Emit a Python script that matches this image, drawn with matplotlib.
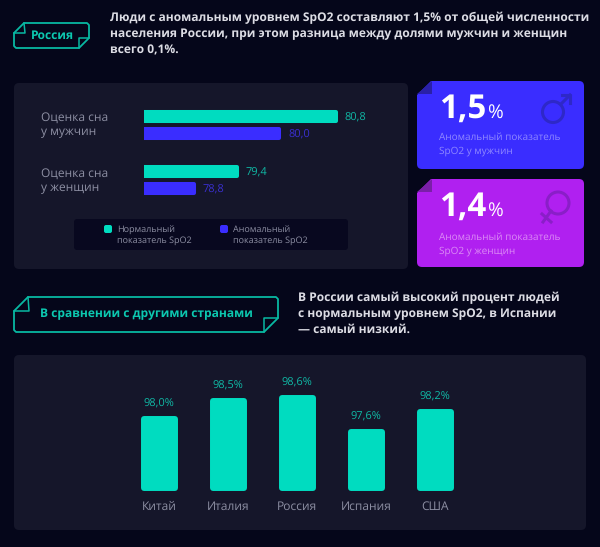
import matplotlib
matplotlib.use("Agg")
import matplotlib.pyplot as plt
from matplotlib.patches import FancyBboxPatch, Polygon, Circle

plt.rcParams['font.family'] = ['Open Sans', 'DejaVu Sans']
plt.rcParams['text.hinting'] = 'no_hinting'
plt.rcParams['text.hinting_factor'] = 1

# Данные
groupes = ["Оценка сна\nу мужчин", "Оценка сна\nу женщин"]
normal = [80.8, 79.4]
anomal = [80.0, 78.8]
normal_labels = ["80,8", "79,4"]
anomal_labels = ["80,0", "78,8"]

pays = ["Китай", "Италия", "Россия", "Испания", "США"]
pays_valeurs = [98.0, 98.5, 98.6, 97.6, 98.2]
pays_labels = ["98,0%", "98,5%", "98,6%", "97,6%", "98,2%"]

BG = "#05061a"
PANEL = "#15162a"
TEAL = "#00dcc0"
TEAL_LINE = "#08b8a2"
TEAL_TXT = "#0cc8b0"
LABEL = "#10b8a5"
BLUE = "#3a2dff"
VIOLET = "#b020f0"
GREY = "#8d8fa3"
HEAD = "#dcdce4"
W, H = 600, 547

fig = plt.figure(figsize=(6, 5.47), dpi=100, facecolor=BG)
bg = fig.add_axes([0, 0, 1, 1])
bg.set_xlim(0, W)
bg.set_ylim(H, 0)
bg.axis("off")


def panel(x0, y0, x1, y1, color, r=5):
    bg.add_patch(FancyBboxPatch((x0 + r, y0 + r), x1 - x0 - 2 * r, y1 - y0 - 2 * r,
                                boxstyle="round,pad=%d,rounding_size=%d" % (r, r),
                                fc=color, ec="none"))


def pixel_axes(x0, y0, x1, y1):
    ax = fig.add_axes([x0 / W, 1 - y1 / H, (x1 - x0) / W, (y1 - y0) / H])
    ax.patch.set_alpha(0)
    ax.axis("off")
    return ax


def banner(x0, y0, x1, y1, f):
    # contour du ruban
    pts = [(x0, y0 + f), (x0 + f, y0), (x1 - 2, y0), (x1, y0 + 2), (x1, y1 - f),
           (x1 - f, y1), (x0 + 2, y1), (x0, y1 - 2)]
    bg.add_patch(Polygon(pts, closed=True, fc="none", ec=TEAL_LINE, lw=1.3, joinstyle="round"))
    bg.plot([x0, x0 + f + 1, x0 + f], [y0 + f, y0 + f, y0], color=TEAL_LINE, lw=1.1)
    bg.plot([x1, x1 - f, x1 - f], [y1 - f, y1 - f, y1], color=TEAL_LINE, lw=1.1)


# Titres
banner(14, 23, 89, 48, 10)
bg.text(52, 36, "Россия", color=TEAL_TXT, fontsize=8.9, fontweight="bold", ha="center", va="center")
bg.text(110, 18, "Люди с аномальным уровнем SpO2 составляют 1,5% от общей численности", color=HEAD,
        fontsize=8.5, fontweight="bold", va="center")
bg.text(110, 34, "населения России, при этом разница между долями мужчин и женщин", color=HEAD,
        fontsize=8.5, fontweight="bold", va="center")
bg.text(110, 50, "всего 0,1%.", color=HEAD, fontsize=8.5, fontweight="bold", va="center")

banner(14, 297, 278, 332, 14)
bg.text(146, 314, "В сравнении с другими странами", color=TEAL_TXT, fontsize=8.4, fontweight="bold",
        ha="center", va="center")
bg.text(298, 298, "В России самый высокий процент людей", color=HEAD, fontsize=8.5,
        fontweight="bold", va="center")
bg.text(298, 314, "с нормальным уровнем SpO2, в Испании", color=HEAD, fontsize=8.5,
        fontweight="bold", va="center")
bg.text(298, 330, "— самый низкий.", color=HEAD, fontsize=8.5, fontweight="bold", va="center")

# Panneaux
panel(14, 83, 408, 269, PANEL)
panel(74, 219, 348, 250, "#08081f", 3)
panel(14, 355, 586, 530, PANEL)

# Barres horizontales
ax1 = pixel_axes(144, 100, 400, 204)
ax1.set_xlim(78.096, 78.096 + 256 / 71)
ax1.set_ylim(104, 0)
for i in range(len(groupes)):
    y = i * 55
    b1 = ax1.barh(y + 16.5, normal[i] - 78.096, left=78.096, height=9, color=TEAL, edgecolor=TEAL, linewidth=2.9)
    b2 = ax1.barh(y + 33.5, anomal[i] - 78.096, left=78.096, height=9, color=BLUE, edgecolor=BLUE, linewidth=2.9)
    for b in list(b1) + list(b2):
        b.set_joinstyle("round")
    ax1.text(normal[i] + 0.125, y + 18, normal_labels[i], color=LABEL, fontsize=8, va="center")
    ax1.text(anomal[i] + 0.125, y + 35, anomal_labels[i], color="#3a2fd0", fontsize=8, va="center")
    bg.text(41, 124.5 + i * 56, groupes[i], color=GREY, fontsize=8.6, va="center", linespacing=1.25)

# Legende
panel(104, 225, 112, 233, TEAL, 2)
panel(220, 225, 228, 233, BLUE, 2)
bg.text(117, 235, "Нормальный\nпоказатель SpO2", color=GREY, fontsize=6.6, va="center", linespacing=1.2)
bg.text(233, 235, "Аномальный\nпоказатель SpO2", color=GREY, fontsize=6.6, va="center", linespacing=1.2)

# Cartes
for y0, col, dark, val, txt, dy in [(81, BLUE, "#2a20a8", "1,5", "SpO2 у мужчин", 0),
                                    (179, VIOLET, "#7a1fa8", "1,4", "SpO2 у женщин", 2)]:
    panel(417, y0, 584, y0 + 88, col)
    bg.add_patch(Polygon([(417, y0 - 1), (432, y0 - 1), (417, y0 + 14)], closed=True, fc=BG, ec="none"))
    bg.add_patch(Polygon([(432, y0), (432, y0 + 13), (417, y0 + 13)], closed=True, fc=dark, ec="none"))
    bg.text(439, y0 + 28, val, color="white", fontsize=24, fontweight="bold", va="center")
    bg.text(487, y0 + 32, "%", color="white", fontsize=14, va="center")
    lab = "#8f88ff" if col == BLUE else "#dc8af5"
    bg.text(439, y0 + 56 + dy, "Аномальный показатель", color=lab, fontsize=7.1, va="center")
    bg.text(439, y0 + 70 + dy, txt, color=lab, fontsize=7.1, va="center")

# Symboles
MALE = "#2e28c8"
FEMALE = "#8a1ec8"
bg.add_patch(Circle((553, 112), 10.5, fc="none", ec=MALE, lw=2.2))
bg.plot([561, 570], [104, 95], color=MALE, lw=2.2)
bg.plot([562, 570, 570], [95, 95, 103], color=MALE, lw=2.2)
bg.add_patch(Circle((558, 203), 11, fc="none", ec=FEMALE, lw=2.2))
bg.plot([551, 543], [211, 222], color=FEMALE, lw=2.2)
bg.plot([542, 551], [214, 222], color=FEMALE, lw=2.2)

# Barres verticales (coins arrondis : bord epais joint rond)
base = 95.817
px = 34.5
coin = 3 / px
ax2 = pixel_axes(124.5, 380, 469.5, 491)
ax2.set_xlim(-0.5, 4.5)
ax2.set_ylim(base, base + 111 / px)
barres = ax2.bar(range(len(pays)), [v - base - 2 * coin for v in pays_valeurs], bottom=base + coin,
                 width=31 / 69, color=TEAL, edgecolor=TEAL, linewidth=4.3)
for b in barres:
    b.set_joinstyle("round")
for i, v in enumerate(pays_valeurs):
    ax2.text(i, v + 0.36, pays_labels[i], color=LABEL, fontsize=8, ha="center", va="center")
    ax2.text(i, base - 0.46, pays[i], color=GREY, fontsize=8.6, ha="center", va="center", clip_on=False)

fig.savefig("out.png", dpi=100, facecolor=BG)
